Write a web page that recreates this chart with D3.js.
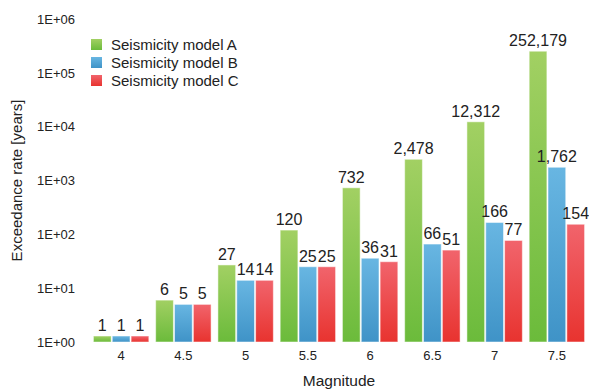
<!DOCTYPE html>
<html>
<head>
<meta charset="utf-8">
<script src="https://cdn.jsdelivr.net/npm/d3@7"></script>
<style>
  html, body { margin: 0; padding: 0; background: #fff; }
  #chart { width: 589px; height: 390px; }
  text { font-family: "Liberation Sans", Arial, Helvetica, sans-serif; fill: #222; }
</style>
</head>
<body>
<div id="chart"></div>
<script>
// Exceedance rate per magnitude for three seismicity models (log y-axis).
var magnitudes = ['4', '4.5', '5', '5.5', '6', '6.5', '7', '7.5'];
var seriesNames = ['Seismicity model A', 'Seismicity model B', 'Seismicity model C'];
var modelA = [1, 6, 27, 120, 732, 2478, 12312, 252179];
var modelB = [1, 5, 14, 25, 36, 66, 166, 1762];
var modelC = [1, 5, 14, 25, 31, 51, 77, 154];
var yTickValues = [1, 10, 100, 1000, 10000, 100000, 1000000];
var yTickLabels = ['1E+00', '1E+01', '1E+02', '1E+03', '1E+04', '1E+05', '1E+06'];

(function () {
    var W = 589, H = 390;
    var margin = { top: 19, right: 1, bottom: 48, left: 90 };
    var innerW = W - margin.left - margin.right;
    var innerH = H - margin.top - margin.bottom;

    var colors = [
        { top: '#a2d063', bot: '#6bbb3b' },
        { top: '#68b6e2', bot: '#3f93c7' },
        { top: '#f1646c', bot: '#e8332f' }
    ];
    var series = [modelA, modelB, modelC];

    var svg = d3.select('#chart').append('svg')
        .attr('width', W).attr('height', H);

    var defs = svg.append('defs');
    colors.forEach(function (c, i) {
        var gr = defs.append('linearGradient')
            .attr('id', 'grad' + i)
            .attr('x1', 0).attr('y1', 0).attr('x2', 0).attr('y2', 1);
        gr.append('stop').attr('offset', '0%').attr('stop-color', c.top);
        gr.append('stop').attr('offset', '100%').attr('stop-color', c.bot);
    });

    var g = svg.append('g')
        .attr('transform', 'translate(' + margin.left + ',' + margin.top + ')');

    var x0 = d3.scaleBand().domain(magnitudes).range([0, innerW])
        .paddingInner(0.11).paddingOuter(0.055);
    var x1 = d3.scaleBand().domain(d3.range(series.length))
        .range([0, x0.bandwidth()]).paddingInner(0.06);
    var y = d3.scaleLog().domain([1, 1e6]).range([innerH, 0]);

    var minH = 6;

    // Bars
    magnitudes.forEach(function (m, i) {
        series.forEach(function (s, k) {
            var v = s[i];
            var top = Math.min(y(v), innerH - minH);
            var bx = x0(m) + x1(k);
            g.append('rect')
                .attr('x', bx).attr('y', top)
                .attr('width', x1.bandwidth())
                .attr('height', innerH - top)
                .attr('fill', 'url(#grad' + k + ')')
                .attr('stroke', '#ffffff').attr('stroke-opacity', 0.5)
                .attr('stroke-width', 1);
            g.append('text')
                .attr('x', bx + x1.bandwidth() / 2)
                .attr('y', top - 5)
                .attr('text-anchor', 'middle')
                .attr('font-size', 16)
                .text(d3.format(',')(v));
        });
    });

    // Axes (no lines, labels only)
    var xAxisG = g.append('g')
        .attr('transform', 'translate(0,' + innerH + ')')
        .call(d3.axisBottom(x0).tickSize(0).tickPadding(9));
    var yAxisG = g.append('g')
        .call(d3.axisLeft(y).tickValues(yTickValues).tickSize(0).tickPadding(15)
            .tickFormat(function (d, i) { return yTickLabels[i]; }));
    [xAxisG, yAxisG].forEach(function (a) {
        a.select('.domain').remove();
        a.selectAll('text')
            .attr('font-size', 13)
            .attr('fill', '#222')
            .style('font-family', '"Liberation Sans", Arial, sans-serif');
    });

    // Legend
    var legX = 91, legY = 39, rowH = 18;
    seriesNames.forEach(function (name, k) {
        svg.append('rect')
            .attr('x', legX).attr('y', legY + k * rowH)
            .attr('width', 11).attr('height', 11)
            .attr('fill', 'url(#grad' + k + ')');
        svg.append('text')
            .attr('x', legX + 20).attr('y', legY + k * rowH + 10.5)
            .attr('font-size', 15)
            .text(name);
    });

    // Axis titles
    svg.append('text')
        .attr('transform', 'translate(22,' + (margin.top + innerH / 2) + ') rotate(-90)')
        .attr('text-anchor', 'middle')
        .attr('font-size', 15)
        .text('Exceedance rate [years]');
    svg.append('text')
        .attr('x', margin.left + innerW / 2).attr('y', 386)
        .attr('text-anchor', 'middle')
        .attr('font-size', 15.5)
        .text('Magnitude');
})();
</script>
</body>
</html>
